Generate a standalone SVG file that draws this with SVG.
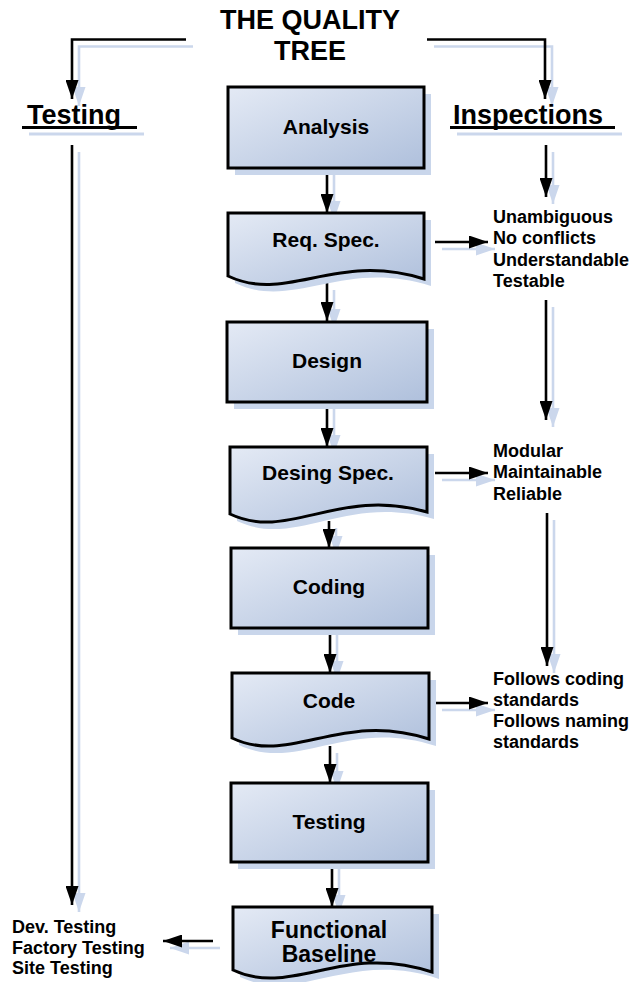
<svg xmlns="http://www.w3.org/2000/svg" width="635" height="982" viewBox="0 0 635 982">
  <defs>
    <linearGradient id="boxFill" x1="0" y1="0" x2="1" y2="1">
      <stop offset="0" stop-color="#e4eaf5"/>
      <stop offset="1" stop-color="#afc0dc"/>
    </linearGradient>
    <marker id="arrow" viewBox="0 0 19 13" refX="19" refY="6.5" markerWidth="19" markerHeight="13" markerUnits="userSpaceOnUse" orient="auto">
      <path d="M0,0 L19,6.5 L0,13 Z" fill="#000"/>
    </marker>
    <marker id="arrowShadow" viewBox="0 0 19 13" refX="19" refY="6.5" markerWidth="19" markerHeight="13" markerUnits="userSpaceOnUse" orient="auto">
      <path d="M0,0 L19,6.5 L0,13 Z" fill="#cbd7ec"/>
    </marker>
    <style>
      .box { fill: url(#boxFill); stroke: #000; stroke-width: 3; stroke-linejoin: miter; }
      .shadow { fill: #c9d6eb; stroke: none; }
      .ln { fill: none; stroke: #000; stroke-width: 2.6; }
      .ln.arr { marker-end: url(#arrow); }
      .lnsh { fill: none; stroke: #cbd7ec; stroke-width: 2.6; }
      .lnsh.arr { marker-end: url(#arrowShadow); }
      .ul { fill: none; stroke: #000; stroke-width: 3; }
      .ulsh { fill: none; stroke: #cbd7ec; stroke-width: 3; }
      text { font-family: "Liberation Sans", Arial, sans-serif; font-weight: bold; fill: #000; }
      .head { font-size: 27px; }
      .lbl { font-size: 21px; text-anchor: middle; }
      .lbl.big { font-size: 23px; }
      .note { font-size: 18px; }
      .title { font-size: 27px; text-anchor: middle; }
    </style>
  </defs>

  <!-- title -->
  <g id="title">
    <text class="title" x="310" y="29">THE QUALITY</text>
    <text class="title" x="310" y="60">TREE</text>
  </g>

  <!-- connector shadows, offset down-right -->
  <g id="connector-shadows" transform="translate(7,7)">
    <path class="lnsh arr" d="M186,39.5 H72 V99"/>
    <path class="lnsh arr" d="M427,39.5 H545 V99"/>
    <path class="lnsh arr" d="M72,145 V905"/>
    <path class="lnsh arr" d="M546,145 V197"/>
    <path class="lnsh arr" d="M546,300 V420"/>
    <path class="lnsh arr" d="M547,513 V666"/>
    <path class="lnsh arr" d="M327,168 V213"/>
    <path class="lnsh arr" d="M327,283 V321"/>
    <path class="lnsh arr" d="M327,402 V447"/>
    <path class="lnsh arr" d="M329,521 V548"/>
    <path class="lnsh arr" d="M330,628 V673"/>
    <path class="lnsh arr" d="M330,746 V783"/>
    <path class="lnsh arr" d="M332,862 V907"/>
    <path class="lnsh arr" d="M435,242 H488"/>
    <path class="lnsh arr" d="M435,473 H488"/>
    <path class="lnsh arr" d="M435,703 H488"/>
    <path class="lnsh arr" d="M213,941 H163"/>
  </g>

  <!-- connectors -->
  <g id="connectors">
    <path class="ln arr" d="M186,39.5 H72 V99"/>
    <path class="ln arr" d="M427,39.5 H545 V99"/>
    <path class="ln arr" d="M72,145 V905"/>
    <path class="ln arr" d="M546,145 V197"/>
    <path class="ln arr" d="M546,300 V420"/>
    <path class="ln arr" d="M547,513 V666"/>
    <path class="ln arr" d="M327,168 V213"/>
    <path class="ln arr" d="M327,283 V321"/>
    <path class="ln arr" d="M327,402 V447"/>
    <path class="ln arr" d="M329,521 V548"/>
    <path class="ln arr" d="M330,628 V673"/>
    <path class="ln arr" d="M330,746 V783"/>
    <path class="ln arr" d="M332,862 V907"/>
    <path class="ln arr" d="M435,242 H488"/>
    <path class="ln arr" d="M435,473 H488"/>
    <path class="ln arr" d="M435,703 H488"/>
    <path class="ln arr" d="M213,941 H163"/>
  </g>

  <!-- column headings -->
  <g id="heading-testing">
    <line class="ulsh" x1="29" y1="134" x2="144" y2="134"/>
    <line class="ul" x1="22" y1="127.5" x2="137" y2="127.5"/>
    <text class="head" x="27" y="124">Testing</text>
  </g>
  <g id="heading-inspections">
    <line class="ulsh" x1="457" y1="134" x2="622" y2="134"/>
    <line class="ul" x1="450" y1="127.5" x2="615" y2="127.5"/>
    <text class="head" x="453" y="124">Inspections</text>
  </g>

  <!-- process steps -->
  <g id="analysis">
    <rect class="shadow" x="235" y="94" width="196" height="81"/>
    <rect class="box" x="228" y="87" width="196" height="81"/>
    <text class="lbl" x="326" y="134">Analysis</text>
  </g>

  <g id="req-spec">
    <path class="shadow" transform="translate(7,7)" d="M228,213 H424 V279 C335.8,251 286.8,304 228,276 Z"/>
    <path class="box" d="M228,213 H424 V279 C335.8,251 286.8,304 228,276 Z"/>
    <text class="lbl" x="326" y="247">Req. Spec.</text>
  </g>

  <g id="design">
    <rect class="shadow" x="234" y="329" width="200" height="80"/>
    <rect class="box" x="227" y="322" width="200" height="80"/>
    <text class="lbl" x="327" y="368">Design</text>
  </g>

  <g id="desing-spec">
    <path class="shadow" transform="translate(7,7)" d="M230,447 H427 V512 C338.4,486 289.1,542 230,514 Z"/>
    <path class="box" d="M230,447 H427 V512 C338.4,486 289.1,542 230,514 Z"/>
    <text class="lbl" x="328" y="480">Desing Spec.</text>
  </g>

  <g id="coding">
    <rect class="shadow" x="238" y="555" width="197" height="80"/>
    <rect class="box" x="231" y="548" width="197" height="80"/>
    <text class="lbl" x="329" y="594">Coding</text>
  </g>

  <g id="code">
    <path class="shadow" transform="translate(7,7)" d="M232,673 H429 V739 C340.4,710 291.1,766 232,738 Z"/>
    <path class="box" d="M232,673 H429 V739 C340.4,710 291.1,766 232,738 Z"/>
    <text class="lbl" x="329" y="708">Code</text>
  </g>

  <g id="testing">
    <rect class="shadow" x="238" y="790" width="197" height="79"/>
    <rect class="box" x="231" y="783" width="197" height="79"/>
    <text class="lbl" x="329" y="829">Testing</text>
  </g>

  <g id="functional-baseline">
    <path class="shadow" transform="translate(7,7)" d="M233,907 H432 V972 C342.5,942 292.7,998 233,970 Z"/>
    <path class="box" d="M233,907 H432 V972 C342.5,942 292.7,998 233,970 Z"/>
    <text class="lbl big" x="329" y="938">Functional</text>
    <text class="lbl big" x="329" y="962">Baseline</text>
  </g>

  <!-- inspection criteria -->
  <g id="req-criteria">
    <text class="note" x="493" y="223">Unambiguous</text>
    <text class="note" x="493" y="244">No conflicts</text>
    <text class="note" x="493" y="265.5">Understandable</text>
    <text class="note" x="493" y="287">Testable</text>
  </g>
  <g id="design-criteria">
    <text class="note" x="493" y="457">Modular</text>
    <text class="note" x="493" y="478">Maintainable</text>
    <text class="note" x="493" y="500">Reliable</text>
  </g>
  <g id="code-criteria">
    <text class="note" x="493" y="685">Follows coding</text>
    <text class="note" x="493" y="706">standards</text>
    <text class="note" x="493" y="727">Follows naming</text>
    <text class="note" x="493" y="748">standards</text>
  </g>

  <!-- testing stages -->
  <g id="testing-stages">
    <text class="note" x="12" y="933">Dev. Testing</text>
    <text class="note" x="12" y="954">Factory Testing</text>
    <text class="note" x="12" y="974">Site Testing</text>
  </g>
</svg>
